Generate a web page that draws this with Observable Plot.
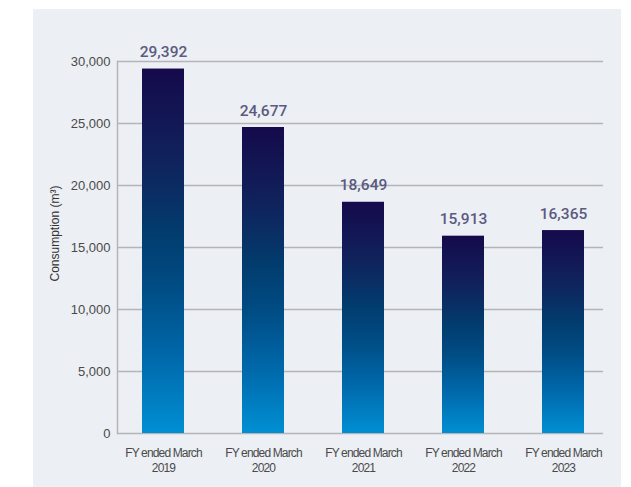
<!DOCTYPE html>
<html>
<head>
<meta charset="utf-8">
<script src="https://cdn.jsdelivr.net/npm/d3@7"></script>
<script src="https://cdn.jsdelivr.net/npm/@observablehq/plot@0.6"></script>
<style>
  html, body { margin: 0; padding: 0; background: #ffffff; }
  #wrap { position: relative; width: 631px; height: 487px; overflow: hidden; }
  #panel { position: absolute; left: 33px; top: 9px; width: 588px; height: 478px; background: #eceff4; }
  #chart { position: absolute; left: 0; top: 0; }
  #chart svg { background: transparent; }
  #chart g[aria-label="x-axis tick label"] { letter-spacing: -0.85px; font-stretch: condensed; }
  #chart g[aria-label="value label"] { letter-spacing: 1px; }
</style>
</head>
<body>
<div id="wrap"><div id="panel"></div><div id="chart"></div></div>
<script>
const categories = ["FY ended March\n2019", "FY ended March\n2020", "FY ended March\n2021", "FY ended March\n2022", "FY ended March\n2023"];
const values = [29392, 24677, 18649, 15913, 16365];
const yTicks = [0, 5000, 10000, 15000, 20000, 25000, 30000];
const yLabel = "Consumption (m³)";

const data = categories.map((c, i) => ({cat: c, value: values[i]}));

const gradientDefs = () => {
  const ns = "http://www.w3.org/2000/svg";
  const defs = document.createElementNS(ns, "defs");
  const g = document.createElementNS(ns, "linearGradient");
  g.setAttribute("id", "barGrad");
  g.setAttribute("x1", "0"); g.setAttribute("y1", "0");
  g.setAttribute("x2", "0"); g.setAttribute("y2", "1");
  [["0%", "#150a4b"], ["25%", "#10225c"], ["45%", "#023c6e"], ["60%", "#004c84"], ["80%", "#006aac"], ["100%", "#008fd3"]].forEach(([o, c]) => {
    const s = document.createElementNS(ns, "stop");
    s.setAttribute("offset", o);
    s.setAttribute("stop-color", c);
    g.appendChild(s);
  });
  defs.appendChild(g);
  return defs;
};

const chart = Plot.plot({
  width: 631,
  height: 487,
  marginLeft: 117,
  marginRight: 28,
  marginTop: 61,
  marginBottom: 54,
  style: {background: "transparent", fontFamily: "'Liberation Sans', Arial, sans-serif"},
  x: {domain: categories, range: [141, 585], paddingInner: 0.58, paddingOuter: 0},
  y: {domain: [0, 30000]},
  marks: [
    gradientDefs,
    Plot.ruleY(yTicks, {stroke: "#b3b5b8", strokeWidth: 1.5}),
    Plot.frame({anchor: "left", stroke: "#b3b5b8", strokeWidth: 1.5}),
    Plot.barY(data, {x: "cat", y: "value", fill: "url(#barGrad)"}),
    Plot.text(data, {x: "cat", y: "value", text: d => d3.format(",")(d.value), lineAnchor: "bottom", dy: -12,
      fill: "#5c5a80", fontSize: 15.5, fontWeight: 500, fontFamily: "Roboto, 'Liberation Sans', sans-serif", ariaLabel: "value label"}),
    Plot.axisY({ticks: yTicks, tickSize: 0, tickPadding: 7, tickFormat: d3.format(","), fontSize: 13, fill: "#4a4a4a", label: null}),
    Plot.axisX({tickSize: 0, tickPadding: 13, fontSize: 12, fill: "#4a4a4a", label: null, lineHeight: 1.25,
      fontFamily: "'Liberation Sans Narrow', 'Liberation Sans', sans-serif"}),
    Plot.text([yLabel], {frameAnchor: "left", rotate: -90, textAnchor: "middle", dx: -62, dy: -14, fontSize: 12, fill: "#333"})
  ]
});
document.getElementById("chart").appendChild(chart);
</script>
</body>
</html>
